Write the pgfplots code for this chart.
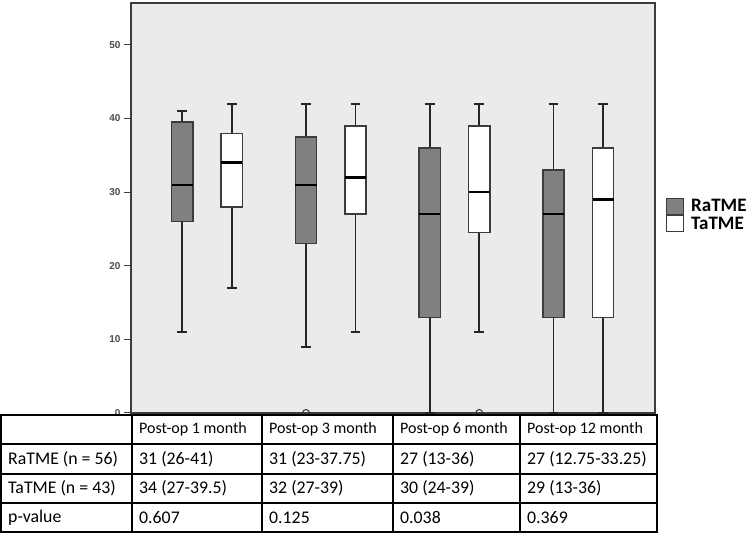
\documentclass[border=0pt]{standalone}
\usepackage{fontspec}
\setmainfont{Carlito}
\newfontfamily\arialfont{Liberation Sans}
\usepackage{pgfplots}
\pgfplotsset{compat=1.18}
\usepgfplotslibrary{statistics}
\definecolor{bggray}{RGB}{235,235,235}
\definecolor{ragray}{RGB}{128,128,128}
\definecolor{edgegray}{RGB}{60,60,60}
\begin{document}
\begin{tikzpicture}
\useasboundingbox (0pt,0pt) rectangle (749pt,534pt);
\begin{axis}[
  at={(131pt,121pt)}, anchor=south west,
  width=524pt, height=410pt, scale only axis,
  xmin=0.386, xmax=4.62, ymin=0, ymax=55.7,
  axis background/.style={fill=bggray},
  axis line style={draw=edgegray, line width=1.2pt},
  ytick={0,10,20,30,40,50},
  yticklabel style={font=\arialfont\fontsize{10}{10}\selectfont\bfseries, text=black!70},
  /pgf/number format/assume math mode=true,
  xtick={1,2,3,4}, xticklabels={},
  tick align=outside, tick style={draw=edgegray, line width=1pt}, major tick length=7pt,
  ytick pos=left, xtick pos=bottom,
  boxplot/draw direction=y,
  boxplot/box extend=0.17,
  boxplot/whisker extend=0.08,
  boxplot/every box/.style={draw=edgegray, line width=1.5pt},
  boxplot/every whisker/.style={draw=black!85, line width=1.9pt},
  boxplot/every median/.style={draw=black, line width=2.5pt},
  clip=false,
  legend style={at={(1.021,0.527)}, anchor=north west, draw=none, fill=none,
    font=\fontsize{19}{19}\selectfont\bfseries, inner sep=0pt, row sep=0pt,
    cells={anchor=west},
    /tikz/every odd column/.append style={column sep=5pt}},
  legend image code/.code={\draw[#1, draw=edgegray, line width=1pt] (0pt,-8pt) rectangle (17pt,8pt);},
]
% RaTME
\addplot[boxplot prepared={draw position=0.8, lower whisker=11, lower quartile=26, median=31, upper quartile=39.5, upper whisker=41}, fill=ragray, forget plot] coordinates {};
\addplot[boxplot prepared={draw position=1.8, lower whisker=9, lower quartile=23, median=31, upper quartile=37.5, upper whisker=42}, fill=ragray, mark=o, mark size=3.5pt, mark options={draw=black!80, line width=1pt}, forget plot] table[row sep=\\, y index=0] {0\\};
\addplot[boxplot prepared={draw position=2.8, lower whisker=0, lower quartile=13, median=27, upper quartile=36, upper whisker=42}, fill=ragray, forget plot] coordinates {};
\addplot[boxplot prepared={draw position=3.8, lower whisker=0, lower quartile=13, median=27, upper quartile=33, upper whisker=42}, fill=ragray, forget plot] coordinates {};
% TaTME
\addplot[boxplot prepared={draw position=1.2, lower whisker=17, lower quartile=28, median=34, upper quartile=38, upper whisker=42}, fill=white, forget plot] coordinates {};
\addplot[boxplot prepared={draw position=2.2, lower whisker=11, lower quartile=27, median=32, upper quartile=39, upper whisker=42}, fill=white, forget plot] coordinates {};
\addplot[boxplot prepared={draw position=3.2, lower whisker=11, lower quartile=24.5, median=30, upper quartile=39, upper whisker=42}, fill=white, mark=o, mark size=3.5pt, mark options={draw=black!80, line width=1pt}, forget plot] table[row sep=\\, y index=0] {0\\};
\addplot[boxplot prepared={draw position=4.2, lower whisker=0, lower quartile=13, median=29, upper quartile=36, upper whisker=42}, fill=white, forget plot] coordinates {};
\addlegendimage{fill=ragray}
\addlegendentry{RaTME}
\addlegendimage{fill=white}
\addlegendentry{TaTME}
\end{axis}
% table
\fill[white] (1pt,2pt) rectangle (657pt,119pt);
\draw[line width=1.2pt] (1pt,2pt) rectangle (657pt,119pt);
\foreach \y in {90,60,31} {\draw[line width=1.2pt] (1pt,\y pt) -- (657pt,\y pt);}
\foreach \x in {132,262,393,520} {\draw[line width=1.2pt] (\x pt,2pt) -- (\x pt,119pt);}
\begin{scope}[every node/.style={anchor=west, inner sep=0pt}]
\node[font=\fontsize{16}{16}\selectfont] at (139pt,104.5pt) {Post-op 1 month};
\node[font=\fontsize{16}{16}\selectfont] at (269pt,104.5pt) {Post-op 3 month};
\node[font=\fontsize{16}{16}\selectfont] at (400pt,104.5pt) {Post-op 6 month};
\node[font=\fontsize{16}{16}\selectfont] at (527pt,104.5pt) {Post-op 12 month};
\node[font=\fontsize{17.8}{17.8}\selectfont] at (8pt,75pt) {RaTME (n = 56)};
\node[font=\fontsize{17.8}{17.8}\selectfont] at (139pt,75pt) {31 (26-41)};
\node[font=\fontsize{17.8}{17.8}\selectfont] at (269pt,75pt) {31 (23-37.75)};
\node[font=\fontsize{17.8}{17.8}\selectfont] at (400pt,75pt) {27 (13-36)};
\node[font=\fontsize{17.8}{17.8}\selectfont] at (527pt,75pt) {27 (12.75-33.25)};
\node[font=\fontsize{17.8}{17.8}\selectfont] at (8pt,45.5pt) {TaTME (n = 43)};
\node[font=\fontsize{17.8}{17.8}\selectfont] at (139pt,45.5pt) {34 (27-39.5)};
\node[font=\fontsize{17.8}{17.8}\selectfont] at (269pt,45.5pt) {32 (27-39)};
\node[font=\fontsize{17.8}{17.8}\selectfont] at (400pt,45.5pt) {30 (24-39)};
\node[font=\fontsize{17.8}{17.8}\selectfont] at (527pt,45.5pt) {29 (13-36)};
\node[font=\fontsize{17.8}{17.8}\selectfont] at (8pt,16.5pt) {p-value};
\node[font=\fontsize{17.8}{17.8}\selectfont] at (139pt,16.5pt) {0.607};
\node[font=\fontsize{17.8}{17.8}\selectfont] at (269pt,16.5pt) {0.125};
\node[font=\fontsize{17.8}{17.8}\selectfont] at (400pt,16.5pt) {0.038};
\node[font=\fontsize{17.8}{17.8}\selectfont] at (527pt,16.5pt) {0.369};
\end{scope}
\end{tikzpicture}
\end{document}
